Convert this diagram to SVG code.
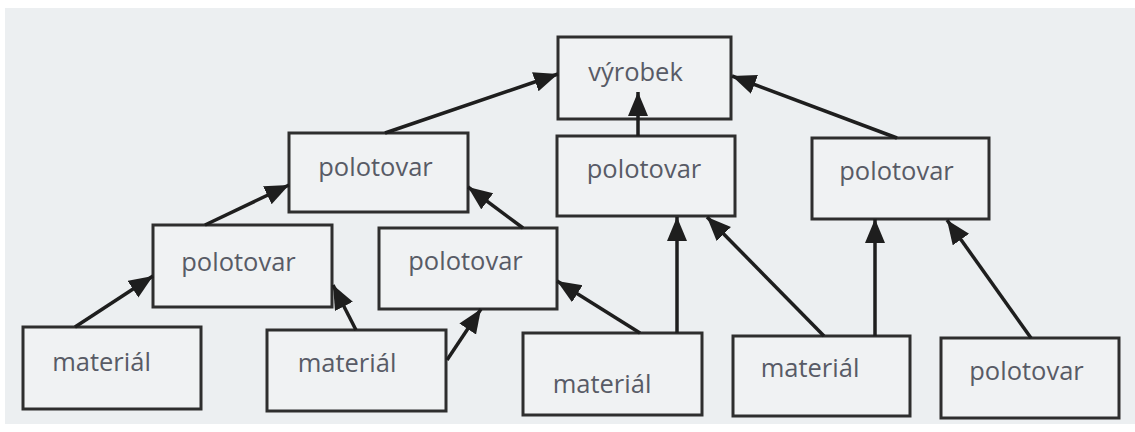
<svg xmlns="http://www.w3.org/2000/svg" width="1135" height="432" viewBox="0 0 1135 432">
  <style>
    .box { fill: #f0f2f3; stroke: #2e2e2e; stroke-width: 3; }
    .lbl { font-family: "Open Sans", "Liberation Sans", sans-serif; font-size: 25.5px; font-weight: 500; fill: #585b66; text-anchor: middle; }
    .edge { stroke: #1e1e1e; stroke-width: 3.5; fill: none; marker-end: url(#arr); }
  </style>
  <defs>
    <marker id="arr" markerUnits="userSpaceOnUse" markerWidth="26" markerHeight="22" refX="24" refY="10" orient="auto">
      <path d="M0,0 L24,10 L0,20 Z" fill="#1e1e1e"/>
    </marker>
  </defs>
  <rect x="0" y="0" width="1135" height="432" fill="#ffffff"/>
  <rect x="5" y="8" width="1130" height="416" fill="#eceff1"/>

  <g id="vyrobek">
    <rect class="box" x="558" y="37" width="173" height="82"/>
    <text class="lbl" x="635.5" y="81">výrobek</text>
  </g>
  <g id="polotovar1">
    <rect class="box" x="289" y="133" width="179" height="79"/>
    <text class="lbl" x="375.5" y="176">polotovar</text>
  </g>
  <g id="polotovar2">
    <rect class="box" x="557" y="136" width="178" height="80"/>
    <text class="lbl" x="644" y="178">polotovar</text>
  </g>
  <g id="polotovar3">
    <rect class="box" x="812" y="138" width="177" height="81"/>
    <text class="lbl" x="896.5" y="180">polotovar</text>
  </g>
  <g id="polotovar4">
    <rect class="box" x="153" y="225" width="179" height="82"/>
    <text class="lbl" x="238.5" y="271">polotovar</text>
  </g>
  <g id="polotovar5">
    <rect class="box" x="379" y="228" width="178" height="81"/>
    <text class="lbl" x="465.5" y="270">polotovar</text>
  </g>
  <g id="material1">
    <rect class="box" x="23" y="327" width="178" height="82"/>
    <text class="lbl" x="101.5" y="371">materiál</text>
  </g>
  <g id="material2">
    <rect class="box" x="267" y="330" width="179" height="81"/>
    <text class="lbl" x="347" y="372">materiál</text>
  </g>
  <g id="material3">
    <rect class="box" x="523" y="333" width="179" height="82"/>
    <text class="lbl" x="602" y="393">materiál</text>
  </g>
  <g id="material4">
    <rect class="box" x="733" y="336" width="177" height="80"/>
    <text class="lbl" x="810" y="377">materiál</text>
  </g>
  <g id="polotovar6">
    <rect class="box" x="941" y="338" width="178" height="80"/>
    <text class="lbl" x="1026.5" y="380">polotovar</text>
  </g>

  <g id="connectors">
    <line class="edge" x1="385" y1="133" x2="558" y2="74"/>
    <line class="edge" x1="638" y1="136" x2="638" y2="92"/>
    <line class="edge" x1="897" y1="138" x2="732" y2="76"/>
    <line class="edge" x1="205" y1="225" x2="289" y2="185"/>
    <line class="edge" x1="523" y1="228" x2="468" y2="187"/>
    <line class="edge" x1="75" y1="327" x2="153" y2="276"/>
    <line class="edge" x1="356" y1="330" x2="333" y2="285"/>
    <line class="edge" x1="447" y1="360" x2="481" y2="309"/>
    <line class="edge" x1="640" y1="333" x2="557" y2="281"/>
    <line class="edge" x1="677" y1="333" x2="677" y2="217"/>
    <line class="edge" x1="824" y1="336" x2="707" y2="217"/>
    <line class="edge" x1="875" y1="336" x2="875" y2="219"/>
    <line class="edge" x1="1031" y1="338" x2="947" y2="220"/>
  </g>
</svg>
